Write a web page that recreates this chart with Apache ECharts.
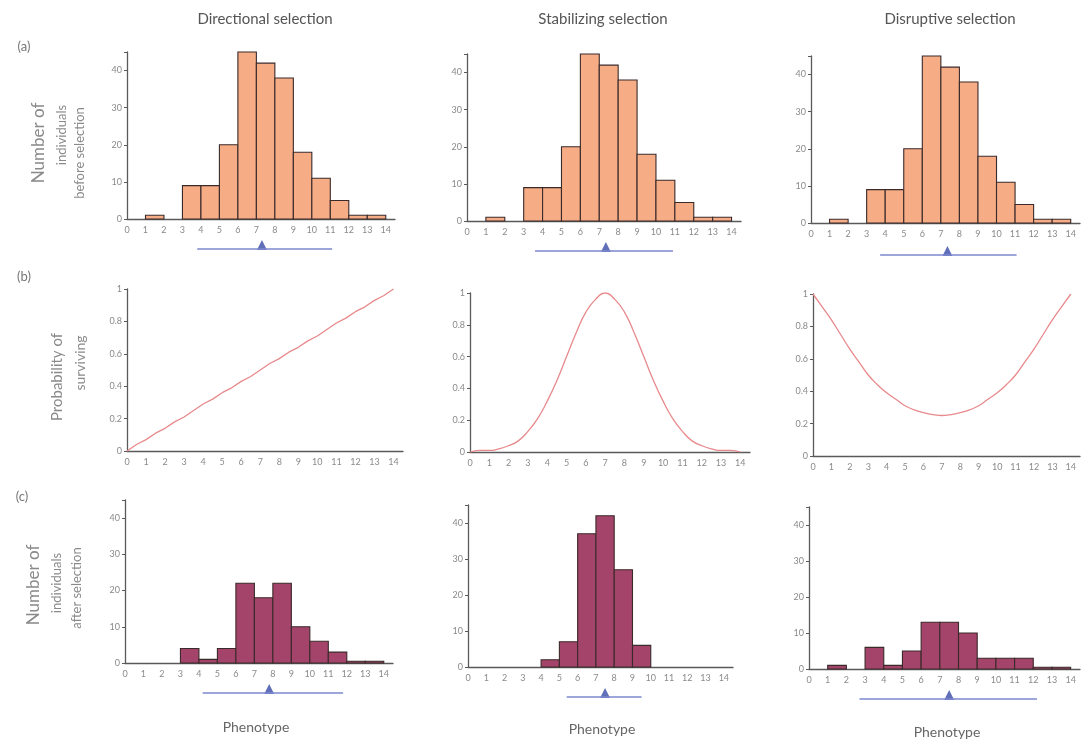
<!DOCTYPE html>
<html>
<head>
<meta charset="utf-8">
<script src="https://cdn.jsdelivr.net/npm/echarts@6/dist/echarts.min.js"></script>
<style>
  html, body { margin:0; padding:0; background:#fff; }
  #container { width:1083px; height:744px; }
</style>
</head>
<body>
<div id="container"></div>
<script>
// phenotype bins run from k to k+1
var phenotypeTicks = [0,1,2,3,4,5,6,7,8,9,10,11,12,13,14];
var countTicks = [0,10,20,30,40];
var probTicks = [0,0.2,0.4,0.6,0.8,1];

// (a) before selection, same population in the three columns
var beforeCounts = [0,1,0,9,9,20,45,42,38,18,11,5,1,1];

// (b) probability of surviving
var curveX = [0,0.5,1,1.5,2,2.5,3,3.5,4,4.5,5,5.5,6,6.5,7,7.5,8,8.5,9,9.5,10,10.5,11,11.5,12,12.5,13,13.5,14];
var survDirectional = [0,0.04,0.07,0.11,0.14,0.18,0.21,0.25,0.29,0.32,0.36,0.39,0.43,0.46,0.5,0.54,0.57,0.61,0.64,0.68,0.71,0.75,0.79,0.82,0.86,0.89,0.93,0.96,1];
var survStabilizing = [0,0.01,0.01,0.02,0.04,0.07,0.13,0.21,0.32,0.45,0.6,0.75,0.88,0.96,1,0.96,0.88,0.75,0.6,0.45,0.32,0.21,0.13,0.07,0.04,0.02,0.01,0.01,0];
var survDisruptive = [1,0.92,0.84,0.75,0.66,0.58,0.5,0.44,0.39,0.35,0.31,0.285,0.268,0.256,0.25,0.256,0.268,0.285,0.31,0.35,0.39,0.44,0.5,0.58,0.66,0.75,0.84,0.92,1];

// (c) after selection
var afterDirectional = [0,0,0,4,1,4,22,18,22,10,6,3,0.5,0.5];
var afterStabilizing = [0,0,0,0,2,7,37,42,27,6,0,0,0,0];
var afterDisruptive = [0,1,0,6,1,5,13,13,10,3,3,3,0.5,0.5];

// mean (triangle) and spread (line) under the histograms
var beforeMean = [7.3,7.35,7.3];
var beforeLow = [3.8,3.6,3.7];
var beforeHigh = [11.1,10.9,11.0];
var afterMean = [7.8,7.5,7.5];
var afterLow = [4.2,5.4,2.7];
var afterHigh = [11.8,9.5,12.2];

var columnTitles = ['Directional selection','Stabilizing selection','Disruptive selection'];

var font = 'Lato, "Open Sans", sans-serif';
var axisCol = '#5a5a5a';
var labCol = '#8a8a8a';
var orange = '#f6ad86';
var maroon = '#a4446a';
var curveCol = '#e8898c';

var myChart = echarts.init(document.getElementById('container'));

// grid boxes: left, top, width, height
var boxes = [
  [127,52,268,167],[467,54,274,167],[811,56,271,167],
  [127,289,276,162],[470,293,280,159],[813,294,284,162],
  [125,500,268,163],[468,505,265,162],[809,507,271,162]
];
var markBoxes = [
  [127,244,268,10],[467,246,274,10],[811,250,271,10],
  [125,688,268,10],[468,692,265,10],[809,694,271,10]
];

var grid=[], xAxis=[], yAxis=[], series=[];

function intLabel(v){ return Math.abs(v-Math.round(v))<1e-6 ? String(Math.round(v)) : ''; }

boxes.forEach(function(b, i){
  var isProb = (i>=3 && i<6);
  grid.push({left:b[0], top:b[1], width:b[2], height:b[3]});
  xAxis.push({
    gridIndex:i, type:'value', min:phenotypeTicks[0], max:14.5, interval:1,
    axisLine:{lineStyle:{color:axisCol, width:1.3}},
    axisTick:{show:false},
    splitLine:{show:false},
    axisLabel:{color:labCol, fontSize:9, margin:7, fontFamily:font, formatter:intLabel}
  });
  yAxis.push({
    gridIndex:i, type:'value', min:0,
    max: isProb ? probTicks[probTicks.length-1] : 45,
    interval: isProb ? 0.2 : 10,
    axisLine:{show:true, lineStyle:{color:axisCol, width:1.3}},
    axisTick:{show:true, length:3, lineStyle:{color:axisCol}},
    splitLine:{show:false},
    axisLabel:{color:labCol, fontSize:9, margin:5, fontFamily:font,
      formatter:function(v){
        if(isProb) return probTicks.indexOf(Math.round(v*10)/10)>=0 ? String(Math.round(v*10)/10) : '';
        return countTicks.indexOf(v)>=0 ? String(v) : '';
      }}
  });
});

markBoxes.forEach(function(b){
  var i = grid.length;
  grid.push({left:b[0], top:b[1], width:b[2], height:b[3]});
  xAxis.push({gridIndex:i, type:'value', min:0, max:14.5, show:false});
  yAxis.push({gridIndex:i, type:'value', min:0, max:1, show:false});
});

function histSeries(counts, gi, color){
  return {
    type:'custom', xAxisIndex:gi, yAxisIndex:gi,
    data: counts.map(function(c,k){ return [phenotypeTicks[k], c]; }),
    renderItem:function(params, api){
      var k = api.value(0), h = api.value(1);
      if(h<=0) return null;
      var p0 = api.coord([k,0]), p1 = api.coord([k+1,h]);
      return {type:'rect',
        shape:{x:p0[0], y:p1[1], width:p1[0]-p0[0], height:p0[1]-p1[1]},
        style:{fill:color, stroke:'#3a2a2a', lineWidth:1.1}};
    }
  };
}

function curveSeries(vals, gi, smooth){
  return {type:'line', xAxisIndex:gi, yAxisIndex:gi, smooth:smooth, symbol:'none',
    lineStyle:{color:curveCol, width:1.3},
    data: vals.map(function(v,k){ return [curveX[k], v]; })};
}

function markSeries(gi, lo, hi, mean){
  return [
    {type:'line', xAxisIndex:gi, yAxisIndex:gi, symbol:'none',
      lineStyle:{color:'#7d88cf', width:1.3}, data:[[lo,0.5],[hi,0.5]]},
    {type:'scatter', xAxisIndex:gi, yAxisIndex:gi, symbol:'triangle',
      symbolSize:[10,10], symbolOffset:[0,-4], itemStyle:{color:'#3a4ba6'}, data:[[mean,0.5]]}
  ];
}

series.push(histSeries(beforeCounts,0,orange));
series.push(histSeries(beforeCounts,1,orange));
series.push(histSeries(beforeCounts,2,orange));
series.push(curveSeries(survDirectional,3,false));
series.push(curveSeries(survStabilizing,4,true));
series.push(curveSeries(survDisruptive,5,true));
series.push(histSeries(afterDirectional,6,maroon));
series.push(histSeries(afterStabilizing,7,maroon));
series.push(histSeries(afterDisruptive,8,maroon));
for(var c=0;c<3;c++){
  series = series.concat(markSeries(9+c, beforeLow[c], beforeHigh[c], beforeMean[c]));
  series = series.concat(markSeries(12+c, afterLow[c], afterHigh[c], afterMean[c]));
}

function txt(s, x, y, size, color, rot){
  return {type:'text', x:x, y:y, rotation:rot||0,
    style:{text:s, font:size+'px '+font, fill:color, align:'center', verticalAlign:'middle'}};
}

var titleX = [265,603,950];
var phenoX = [256,602,947];
var phenoY = [727,729,732];
var graphic = [];
for(var t=0;t<3;t++){
  graphic.push(txt(columnTitles[t], titleX[t], 19, 15, '#555'));
  graphic.push(txt('Phenotype', phenoX[t], phenoY[t], 14, '#666'));
}
graphic.push(txt('(a)',24,47,13,'#777'));
graphic.push(txt('(b)',24,277,13,'#777'));
graphic.push(txt('(c)',22,497,13,'#777'));
var R = Math.PI/2;
graphic.push(txt('Number of',39,143,17,'#8a8a8a',R));
graphic.push(txt('individuals',62,135,13,'#8a8a8a',R));
graphic.push(txt('before selection',80,153,13,'#8a8a8a',R));
graphic.push(txt('Probability of',57,377,15,'#8a8a8a',R));
graphic.push(txt('surviving',80,363,14,'#8a8a8a',R));
graphic.push(txt('Number of',34,585,17,'#8a8a8a',R));
graphic.push(txt('individuals',57,583,13,'#8a8a8a',R));
graphic.push(txt('after selection',77,588,13,'#8a8a8a',R));

option = {
  animation:false,
  backgroundColor:'#fff',
  grid:grid, xAxis:xAxis, yAxis:yAxis, series:series, graphic:graphic
};
myChart.setOption(option);
</script>
</body>
</html>
